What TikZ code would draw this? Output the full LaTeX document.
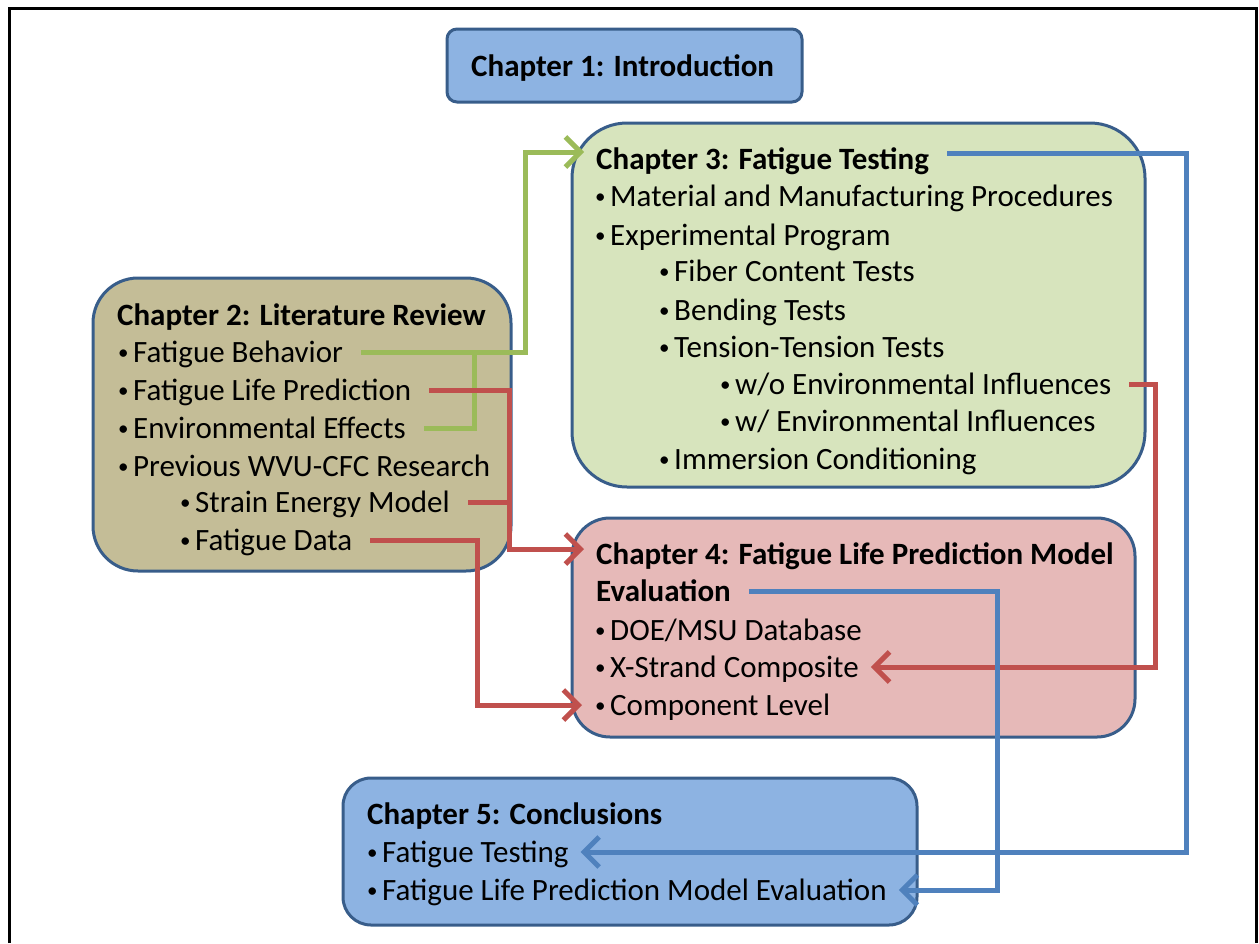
\documentclass[tikz,border=0pt]{standalone}
\usepackage{fontspec}
\setmainfont{Carlito}
\usetikzlibrary{arrows.meta}

\definecolor{boxblue}{HTML}{8DB3E2}
\definecolor{boxgreen}{HTML}{D7E4BD}
\definecolor{boxtan}{HTML}{C4BD97}
\definecolor{boxpink}{HTML}{E6B9B8}
\definecolor{edge}{HTML}{385D8A}
\definecolor{lgreen}{HTML}{9BBB59}
\definecolor{lred}{HTML}{C0504D}
\definecolor{lblue}{HTML}{4F81BD}

\newcommand{\bul}{\makebox[16pt][l]{\hspace{1pt}\fontsize{21}{21}\selectfont\raisebox{2.5pt}{\textbullet}}}

\begin{document}
\begin{tikzpicture}[x=1pt, y=-1pt,
  every node/.style={font=\fontsize{31}{38}\selectfont},
  box/.style={draw=edge, line width=3pt},
  txt/.style={anchor=base west, inner sep=0pt, text height=25pt, text depth=5pt},
  link/.style={line width=5pt, shorten <=18pt},
  arr/.style={-{Straight Barb[length=15pt,width=30pt]}, shorten >=12pt}]
\useasboundingbox (0,0) rectangle (1259,943);
\draw[line width=3pt] (9,943) -- (9,8) -- (1256,8) -- (1256,943);

% chapter boxes
\path (624.5,65.5) node[box, fill=boxblue, rounded corners=10pt, minimum width=355pt, minimum height=73pt] (ch1) {}
      (858.5,305) node[box, fill=boxgreen, rounded corners=55pt, minimum width=573pt, minimum height=364pt] (ch3) {}
      (302,424.5) node[box, fill=boxtan, rounded corners=45pt, minimum width=418pt, minimum height=293pt] (ch2) {}
      (853.5,627.5) node[box, fill=boxpink, rounded corners=38pt, minimum width=563pt, minimum height=219pt] (ch4) {}
      (630,851.5) node[box, fill=boxblue, rounded corners=28pt, minimum width=574pt, minimum height=147pt] (ch5) {};

% chapter 1
\path (471,76) node[txt] (ch1t) {\textbf{Chapter 1: Introduction}};

% chapter 2
\path (117,325) node[txt] (ch2t) {\textbf{Chapter 2: Literature Review}}
      (117,362) node[txt] (fb) {\bul Fatigue Behavior}
      (117,400) node[txt] (lp) {\bul Fatigue Life Prediction}
      (117,438) node[txt] (ee) {\bul Environmental Effects}
      (117,476) node[txt] (pr) {\bul Previous WVU-CFC Research}
      (179,512) node[txt] (se) {\bul Strain Energy Model}
      (179,550) node[txt] (fd) {\bul Fatigue Data};

% chapter 3
\path (596,169) node[txt] (ch3t) {\textbf{Chapter 3: Fatigue Testing}}
      (594,206) node[txt] (mm) {\bul Material and Manufacturing Procedures}
      (594,245) node[txt] (ep) {\bul Experimental Program}
      (658,281) node[txt] (fc) {\bul Fiber Content Tests}
      (658,320) node[txt] (bt) {\bul Bending Tests}
      (658,357) node[txt] (tt) {\bul Tension-Tension Tests}
      (719,394) node[txt] (wo) {\bul w/o Environmental Influences}
      (719,431) node[txt] (wi) {\bul w/ Environmental Influences}
      (658,469) node[txt] (ic) {\bul Immersion Conditioning};

% chapter 4
\path (596,564) node[txt] (ch4t) {\textbf{Chapter 4: Fatigue Life Prediction Model}}
      (596,601) node[txt] (ev) {\textbf{Evaluation}}
      (594,640) node[txt] (db) {\bul DOE/MSU Database}
      (594,677) node[txt] (xs) {\bul X-Strand Composite}
      (594,715) node[txt] (cl) {\bul Component Level};

% chapter 5
\path (367,824) node[txt] (ch5t) {\textbf{Chapter 5: Conclusions}}
      (366,862) node[txt] (ft) {\bul Fatigue Testing}
      (366,900) node[txt] (fl) {\bul Fatigue Life Prediction Model Evaluation};

% links
\draw[link, lgreen, arr] (fb.east) -| (525,152) -- ([yshift=7pt]ch3t.west);
\draw[link, lgreen] (ee.east) -| (474,0 |- fb.east);
\draw[link, lred, arr] (lp.east) -| (509,549) -- ([yshift=5pt]ch4t.west);
\draw[link, lred] (se.east) -- (509,0 |- se.east);
\draw[link, lred, arr] (fd.east) -| (477,0 |- cl.west) -- (cl.west);
\draw[link, lred, arr] (wo.east) -| (1155,0 |- xs.east) -- (xs.east);
\draw[link, lblue, arr] ([yshift=6pt]ch3t.east) -| (1186,0 |- ft.east) -- (ft.east);
\draw[link, lblue, arr] (ev.east) -| (997,0 |- fl.east) -- (fl.east);
\end{tikzpicture}
\end{document}
